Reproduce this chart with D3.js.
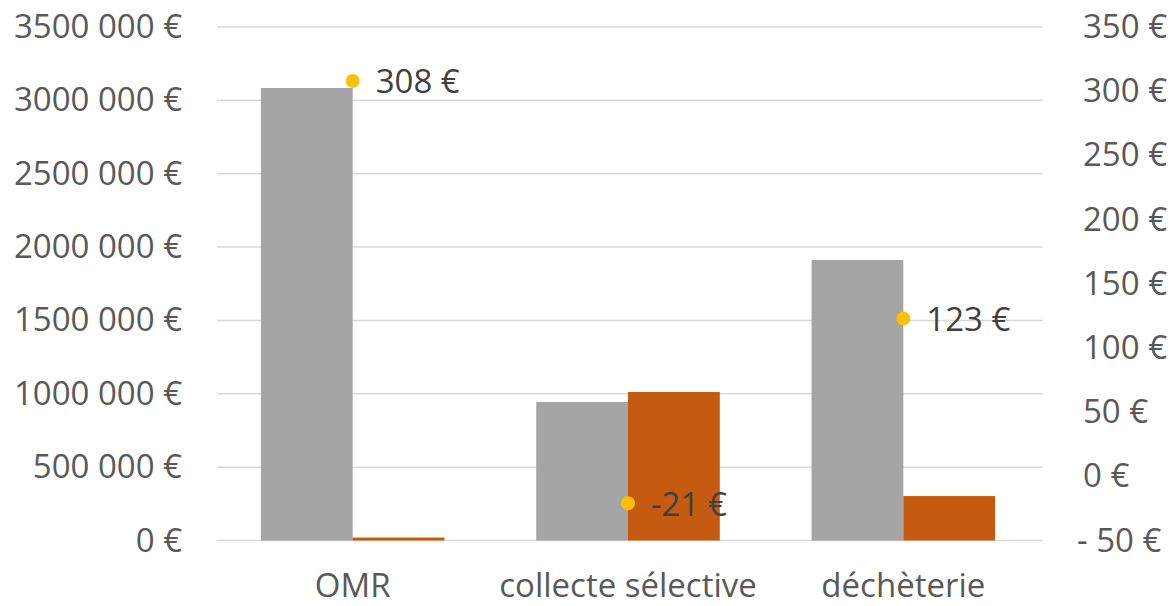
<!DOCTYPE html>
<html>
<head>
<meta charset="utf-8">
<script src="https://cdn.jsdelivr.net/npm/d3@7.9.0/dist/d3.min.js"></script>
<style>
  body { margin: 0; background: #fff; }
  svg text { font-family: 'Open Sans', sans-serif; }
</style>
</head>
<body>
<svg id="chart" width="1174" height="606"></svg>
<script>
// data
const categories = ['OMR', 'collecte sélective', 'déchèterie'];
const seriesNames = ['coût', 'recettes'];
const costValues = [3084000, 944000, 1912000];      // grey bars (left axis)
const revenueValues = [20000, 1012000, 303000];     // orange bars (left axis)
const perTonValues = [308, -21, 123];               // yellow dots (right axis)
const leftTicks = [0, 500000, 1000000, 1500000, 2000000, 2500000, 3000000, 3500000];
const rightTicks = [-50, 0, 50, 100, 150, 200, 250, 300, 350];

const colors = { 'coût': '#a5a5a5', 'recettes': '#c55a11' };

const svg = d3.select('#chart');
const plotLeft = 217, plotRight = 1043, plotTop = 27, plotBottom = 540.5;

let x0 = d3.scaleBand().domain(categories).range([plotLeft - 2, plotRight - 2]);
let groupW = x0.bandwidth() * 2 / 3;
let x1 = d3.scaleBand().domain(seriesNames).range([0, groupW]);
let yL = d3.scaleLinear().domain([0, 3500000]).range([plotBottom, plotTop]);
let yR = d3.scaleLinear().domain([-50, 350]).range([plotBottom, plotTop]);

const fmtLeft = (v) => v === 0 ? '0 €' : `${v / 1000} 000 €`;
const fmtRight = (v) => v < 0 ? `- ${Math.abs(v)} €` : `${v} €`;

// gridlines
svg.append('g')
  .selectAll('line')
  .data(leftTicks)
  .join('line')
  .attr('x1', plotLeft).attr('x2', plotRight)
  .attr('y1', (d) => yL(d)).attr('y2', (d) => yL(d))
  .attr('stroke', '#d9d9d9')
  .attr('stroke-width', 1.5);

// left axis
let axL = svg.append('g')
  .attr('transform', `translate(${plotLeft - 35},0)`)
  .call(d3.axisLeft(yL).tickValues(leftTicks).tickFormat(fmtLeft).tickSize(0).tickPadding(0));
axL.select('.domain').remove();
axL.selectAll('text')
  .attr('font-size', 33).attr('fill', '#595959')
  .attr('font-family', "'Open Sans', sans-serif");

// right axis (accounting style: negative label sits a bit further left)
let axR = svg.append('g')
  .attr('transform', `translate(1083,0)`)
  .call(d3.axisRight(yR).tickValues(rightTicks).tickFormat(fmtRight).tickSize(0).tickPadding(0));
axR.select('.domain').remove();
axR.selectAll('text')
  .attr('font-size', 33).attr('fill', '#595959')
  .attr('font-family', "'Open Sans', sans-serif")
  .attr('x', (d) => d < 0 ? -6 : 0);

// bars
const rows = categories.map((c, i) => ({
  cat: c,
  vals: [
    { key: 'coût', value: costValues[i] },
    { key: 'recettes', value: revenueValues[i] },
  ],
}));

svg.append('g')
  .selectAll('g')
  .data(rows)
  .join('g')
  .attr('transform', (d) => `translate(${x0(d.cat) + (x0.bandwidth() - groupW) / 2},0)`)
  .selectAll('rect')
  .data((d) => d.vals)
  .join('rect')
  .attr('x', (d) => x1(d.key))
  .attr('width', x1.bandwidth())
  .attr('y', (d) => yL(d.value))
  .attr('height', (d) => yL(0) - yL(d.value))
  .attr('fill', (d) => colors[d.key]);

// category labels
svg.append('g')
  .selectAll('text')
  .data(categories)
  .join('text')
  .attr('x', (d) => x0(d) + x0.bandwidth() / 2)
  .attr('y', 597)
  .attr('text-anchor', 'middle')
  .attr('font-size', 33)
  .attr('fill', '#595959')
  .text((d) => d);

// yellow dots + labels
const cx = (i) => x0(categories[i]) + x0.bandwidth() / 2;
svg.append('g')
  .selectAll('circle')
  .data(perTonValues)
  .join('circle')
  .attr('cx', (d, i) => cx(i))
  .attr('cy', (d) => yR(d))
  .attr('r', 7)
  .attr('fill', '#ffc000');

svg.append('g')
  .selectAll('text')
  .data(perTonValues)
  .join('text')
  .attr('x', (d, i) => cx(i) + 23)
  .attr('y', (d) => yR(d) + 1)
  .attr('dy', '0.35em')
  .attr('font-size', 33)
  .attr('fill', '#404040')
  .text((d) => `${d} €`);
</script>
</body>
</html>
